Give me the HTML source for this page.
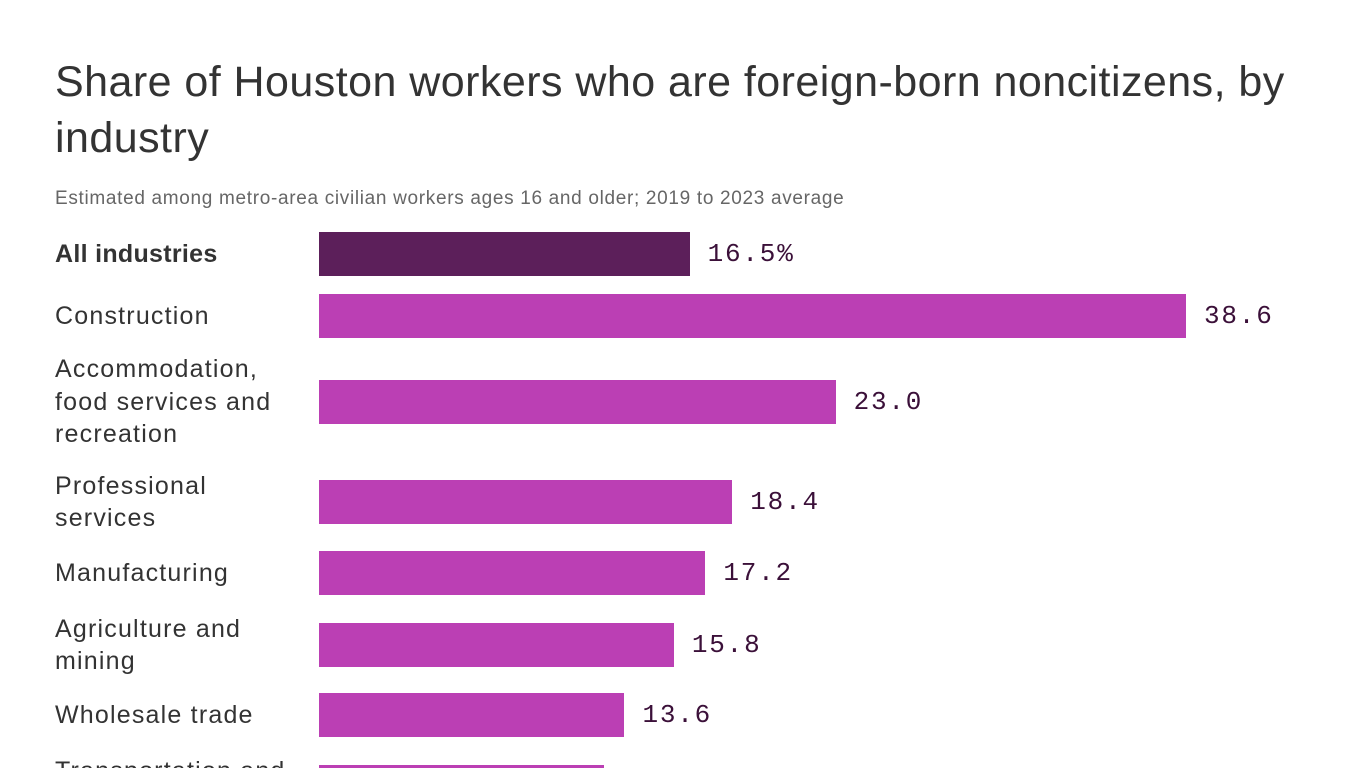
<!DOCTYPE html>
<html><head><meta charset="utf-8">
<style>
html,body{margin:0;padding:0;width:1366px;height:768px;overflow:hidden;background:#fff;}
body{font-family:"Liberation Sans",sans-serif;color:#333;position:relative;}
#title{position:absolute;left:55px;top:54px;width:1300px;font-size:43px;line-height:56px;letter-spacing:0.45px;margin:0;font-weight:normal;color:#333;white-space:nowrap;}
#subtitle{position:absolute;left:55px;top:188px;font-size:19px;color:#666;letter-spacing:0.68px;white-space:nowrap;}
.lbl{position:absolute;left:55px;font-size:25px;line-height:32.5px;color:#333;letter-spacing:1.2px;width:260px;white-space:nowrap;}
.bar{position:absolute;height:44px;}
.val{position:absolute;font-family:"Liberation Mono",monospace;font-size:26px;color:#3b1039;line-height:44px;letter-spacing:1.8px;}
#chart{position:absolute;left:0;top:0;width:1366px;height:768px;overflow:hidden;}
</style></head>
<body>
<h1 id="title">Share of Houston workers who are foreign-born noncitizens, by<br>industry</h1>
<div id="subtitle">Estimated among metro-area civilian workers ages 16 and older; 2019 to 2023 average</div>
<div id="chart"></div>
<script>
const categories = ["All industries","Construction","Accommodation, food services and recreation","Professional services","Manufacturing","Agriculture and mining","Wholesale trade","Transportation and warehousing"];
const labelLines = [["All industries"],["Construction"],["Accommodation,","food services and","recreation"],["Professional","services"],["Manufacturing"],["Agriculture and","mining"],["Wholesale trade"],["Transportation and","warehousing"]];
const values = [16.5,38.6,23.0,18.4,17.2,15.8,13.6,12.7];
const valueLabels = ["16.5%","38.6","23.0","18.4","17.2","15.8","13.6","12.7"];

const layoutBarTops = [232,294,380,480,551,623,693,765];
const x0 = 319, pxPerUnit = (1186-319)/38.6;
function xScale(v){ return x0 + v*pxPerUnit; }
const chart = document.getElementById('chart');
categories.forEach((c,i)=>{
  const top = layoutBarTops[i];
  const lbl = document.createElement('div');
  lbl.className='lbl';
  
  
  lbl.innerHTML = labelLines[i].join('<br>');
  if(i===0){ lbl.style.fontWeight='bold'; lbl.style.letterSpacing='0.3px'; }
  const n = labelLines[i].length;
  lbl.style.top = (top + 22 - n*32.5/2) + 'px';
  chart.appendChild(lbl);
  const bar = document.createElement('div');
  bar.className='bar';
  
  
  bar.style.left = x0+'px';
  bar.style.top = top+'px';
  bar.style.width = (xScale(values[i])-x0)+'px';
  bar.style.background = i===0 ? '#5c1f5a' : '#bb3fb4';
  chart.appendChild(bar);
  const v = document.createElement('div');
  v.className='val';
  
  
  v.textContent = valueLabels[i];
  v.style.left = (xScale(values[i])+18)+'px';
  v.style.top = top+'px';
  chart.appendChild(v);
});
</script>
</body></html>
